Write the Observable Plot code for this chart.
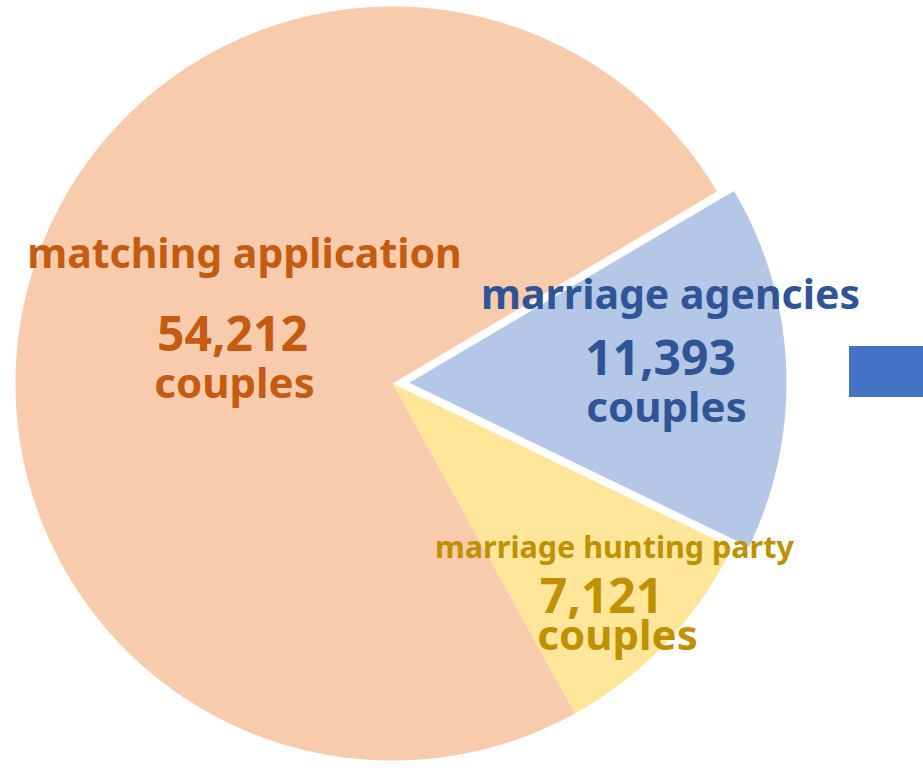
<!DOCTYPE html>
<html>
<head>
<meta charset="utf-8">
<script src="https://cdn.jsdelivr.net/npm/d3@7"></script>
<script src="https://cdn.jsdelivr.net/npm/@observablehq/plot@0.6"></script>
<style>
  html, body { margin: 0; padding: 0; background: #fff; overflow: hidden; }
</style>
</head>
<body>
<div id="chart"></div>
<script>
// ---- data ----
const categories = ["marriage agencies", "marriage hunting party", "matching application"];
const values = [11393, 7121, 54212];
const unitLabel = "couples";
const exploded = [true, false, false];

// ---- styles ----
const sliceFills = ["#B4C7E7", "#FFE699", "#F8CBAD"];
const textColors = ["#2F5597", "#BF9000", "#C55A11"];

// ---- layout (pixels) ----
const W = 923, H = 771;
const center = {x: 392, y: 383};
const radius = 377;
const explodeDist = 17;
const startDeg = 59.4;
// label anchor points (baselines, centred)
const nameAt = [[670, 308], [614, 557], [244, 267]];
const valueAt = [[660, 374], [601, 612], [232, 350]];
const unitAt = [[666, 421], [617, 649], [234, 397]];
const nameSize = [41, 30.5, 41];
const valueSize = 48;
const unitSize = 42;
const arrowBox = {x1: 849, x2: W, y1: 346, y2: 397};
const FONT = "'Noto Sans', 'DejaVu Sans', sans-serif";

// ---- build slices with d3.pie ----
const start = startDeg * Math.PI / 180;
const arcs = d3.pie().sort(null).startAngle(start).endAngle(start + 2 * Math.PI)(values);
const polyPoints = [];
arcs.forEach((a, i) => {
  const mid = (a.startAngle + a.endAngle) / 2;
  const off = exploded[i] ? explodeDist : 0;
  const ox = center.x + off * Math.sin(mid);
  const oy = center.y - off * Math.cos(mid);
  const cat = categories[i];
  polyPoints.push({cat, x: ox, y: oy});
  const n = Math.max(8, Math.ceil((a.endAngle - a.startAngle) / (0.2 * Math.PI / 180)));
  for (let k = 0; k <= n; k++) {
    const t = a.startAngle + (a.endAngle - a.startAngle) * k / n;
    polyPoints.push({cat, x: ox + radius * Math.sin(t), y: oy - radius * Math.cos(t)});
  }
});

const fmt = d3.format(",");
const textMarks = [];
categories.forEach((c, i) => {
  const common = {text: "t", x: "x", y: "y", fill: textColors[i], fontWeight: "bold",
    fontFamily: FONT, textAnchor: "middle", lineAnchor: "bottom"};
  textMarks.push(Plot.text([{x: nameAt[i][0], y: nameAt[i][1], t: c}], {...common, fontSize: nameSize[i]}));
  textMarks.push(Plot.text([{x: valueAt[i][0], y: valueAt[i][1], t: fmt(values[i])}], {...common, fontSize: valueSize}));
  textMarks.push(Plot.text([{x: unitAt[i][0], y: unitAt[i][1], t: unitLabel}], {...common, fontSize: unitSize}));
});

const chart = Plot.plot({
  width: W,
  height: H,
  margin: 0,
  x: {domain: [0, W], range: [0, W], axis: null},
  y: {domain: [0, H], range: [0, H], axis: null},
  color: {domain: categories, range: sliceFills},
  style: {background: "#fff"},
  marks: [
    Plot.line(polyPoints, {x: "x", y: "y", z: "cat", fill: "cat", stroke: "none", curve: "linear-closed"}),
    Plot.rect([arrowBox], {x1: "x1", x2: "x2", y1: "y1", y2: "y2", fill: "#4472C4"}),
    ...textMarks
  ]
});
document.getElementById("chart").appendChild(chart);
</script>
</body>
</html>
